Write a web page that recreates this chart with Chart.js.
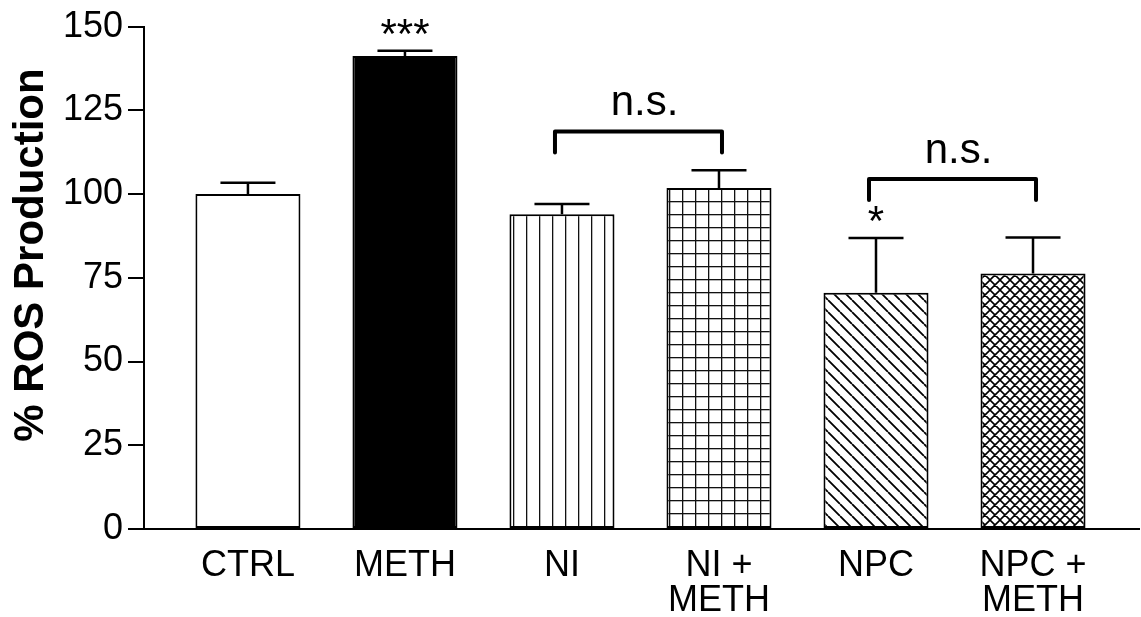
<!DOCTYPE html>
<html>
<head>
<meta charset="utf-8">
<script src="https://cdn.jsdelivr.net/npm/chart.js@4.4.0/dist/chart.umd.min.js"></script>
<style>
html,body{margin:0;padding:0;background:#fff;}
#wrap{width:1141px;height:617px;}
</style>
</head>
<body>
<div id="wrap"><canvas id="c" width="1141" height="617"></canvas></div>
<script>
// ---- data ----
const categories = [["CTRL"], ["METH"], ["NI"], ["NI +", "METH"], ["NPC"], ["NPC +", "METH"]];
const means  = [100, 141.2, 94, 101.8, 70.5, 76.3];
const errors = [3.4, 1.6, 3.0, 5.3, 16.4, 10.7];
const yTicks = [0, 25, 50, 75, 100, 125, 150];
const starLabels = ["", "***", "", "", "*", ""];
const bracketPairs = [[2, 3], [4, 5]];
const bracketLabels = ["n.s.", "n.s."];
const bracketLevels = [118.7, 104.5];   // y value of the bracket bar
const yTitle = "% ROS Production";

// ---- styles ----
const FONT = "'Liberation Sans', Arial, Helvetica, sans-serif";

function makePattern(kind) {
  const c = document.createElement('canvas');
  let s = 13;
  if (kind === 'diag') s = 12;
  if (kind === 'cross') s = 10;
  c.width = s; c.height = s;
  const g = c.getContext('2d');
  g.fillStyle = '#fff';
  g.fillRect(0, 0, s, s);
  g.fillStyle = '#111';
  g.strokeStyle = '#000';
  if (kind === 'vlines') {
    g.fillRect(6, 0, 1.3, s);
  } else if (kind === 'grid') {
    g.fillRect(6, 0, 1.3, s);
    g.fillRect(0, 6, s, 1.3);
  } else if (kind === 'diag') {
    g.lineWidth = 1.8;
    g.beginPath();
    for (const k of [-s, 0, s]) { g.moveTo(k, 0); g.lineTo(k + s, s); }
    g.stroke();
  } else if (kind === 'cross') {
    g.lineWidth = 1.6;
    g.beginPath();
    for (const k of [-s, 0, s]) {
      g.moveTo(k, 0); g.lineTo(k + s, s);
      g.moveTo(k + s, 0); g.lineTo(k, s);
    }
    g.stroke();
  }
  return document.getElementById('c').getContext('2d').createPattern(c, 'repeat');
}

const fills = ['#ffffff', '#000000', makePattern('vlines'), makePattern('grid'), makePattern('diag'), makePattern('cross')];

const annotatePlugin = {
  id: 'annotate',
  afterDatasetsDraw(chart) {
    const ctx = chart.ctx;
    const ys = chart.scales.y;
    const meta = chart.getDatasetMeta(0);
    ctx.save();
    // error bars (upper)
    ctx.strokeStyle = '#000';
    ctx.lineWidth = 2.5;
    ctx.lineCap = 'butt';
    meta.data.forEach((el, i) => {
      const x = el.x;
      const yTop = ys.getPixelForValue(means[i]);
      const yErr = ys.getPixelForValue(means[i] + errors[i]);
      ctx.beginPath();
      ctx.moveTo(x, yTop);
      ctx.lineTo(x, yErr);
      ctx.moveTo(x - 27.5, yErr);
      ctx.lineTo(x + 27.5, yErr);
      ctx.stroke();
      if (starLabels[i]) {
        ctx.fillStyle = '#000';
        ctx.font = '42px ' + FONT;
        ctx.textAlign = 'center';
        ctx.textBaseline = 'alphabetic';
        ctx.fillText(starLabels[i], x, yErr - 3);
      }
    });
    // brackets
    ctx.lineWidth = 4;
    ctx.lineCap = 'round';
    ctx.lineJoin = 'round';
    bracketPairs.forEach((p, j) => {
      const x1 = meta.data[p[0]].x - 7;
      const x2 = meta.data[p[1]].x + 3;
      const yb = ys.getPixelForValue(bracketLevels[j]);
      ctx.beginPath();
      ctx.moveTo(x1, yb + 21);
      ctx.lineTo(x1, yb);
      ctx.lineTo(x2, yb);
      ctx.lineTo(x2, yb + 21);
      ctx.stroke();
      ctx.fillStyle = '#000';
      ctx.font = '42px ' + FONT;
      ctx.textAlign = 'center';
      ctx.textBaseline = 'alphabetic';
      ctx.fillText(bracketLabels[j], (x1 + x2) / 2 + 6, yb - 16);
    });
    // y title
    ctx.save();
    ctx.translate(43, 255);
    ctx.rotate(-Math.PI / 2);
    ctx.font = 'bold 42px ' + FONT;
    ctx.textAlign = 'center';
    ctx.textBaseline = 'alphabetic';
    ctx.fillStyle = '#000';
    ctx.fillText(yTitle, 0, 0);
    ctx.restore();
    ctx.restore();
  }
};

new Chart(document.getElementById('c'), {
  type: 'bar',
  data: {
    datasets: [{
      data: means.map((v, i) => ({ x: i, y: v })),
      backgroundColor: fills,
      borderColor: '#000',
      borderWidth: 2,
      borderSkipped: false,
      barPercentage: 0.669,
      categoryPercentage: 1
    }]
  },
  options: {
    responsive: false,
    animation: false,
    devicePixelRatio: 1,
    layout: { padding: { top: 24, right: 2, left: 0, bottom: 0 } },
    plugins: { legend: { display: false }, tooltip: { enabled: false } },
    scales: {
      x: {
        type: 'linear',
        min: -0.662,
        max: 5.675,
        offset: false,
        afterBuildTicks: s => { s.ticks = categories.map((_, i) => ({ value: i })); },
        afterFit: s => { s.height = 88; },
        grid: { display: false, drawTicks: false },
        border: { display: true, color: '#000', width: 2 },
        ticks: {
          autoSkip: false,
          maxRotation: 0,
          padding: 20,
          color: '#000',
          font: { family: FONT, size: 36, lineHeight: 35 / 36 },
          callback: v => categories[v] || ''
        }
      },
      y: {
        min: 0,
        max: 150,
        afterBuildTicks: s => { s.ticks = yTicks.map(v => ({ value: v })); },
        afterFit: s => { s.width = 144; },
        grid: { drawOnChartArea: false, tickLength: 16, color: '#000', lineWidth: 2 },
        border: { display: true, color: '#000', width: 2 },
        ticks: {
          padding: 5,
          color: '#000',
          font: { family: FONT, size: 36 }
        }
      }
    }
  },
  plugins: [annotatePlugin]
});
</script>
</body>
</html>
